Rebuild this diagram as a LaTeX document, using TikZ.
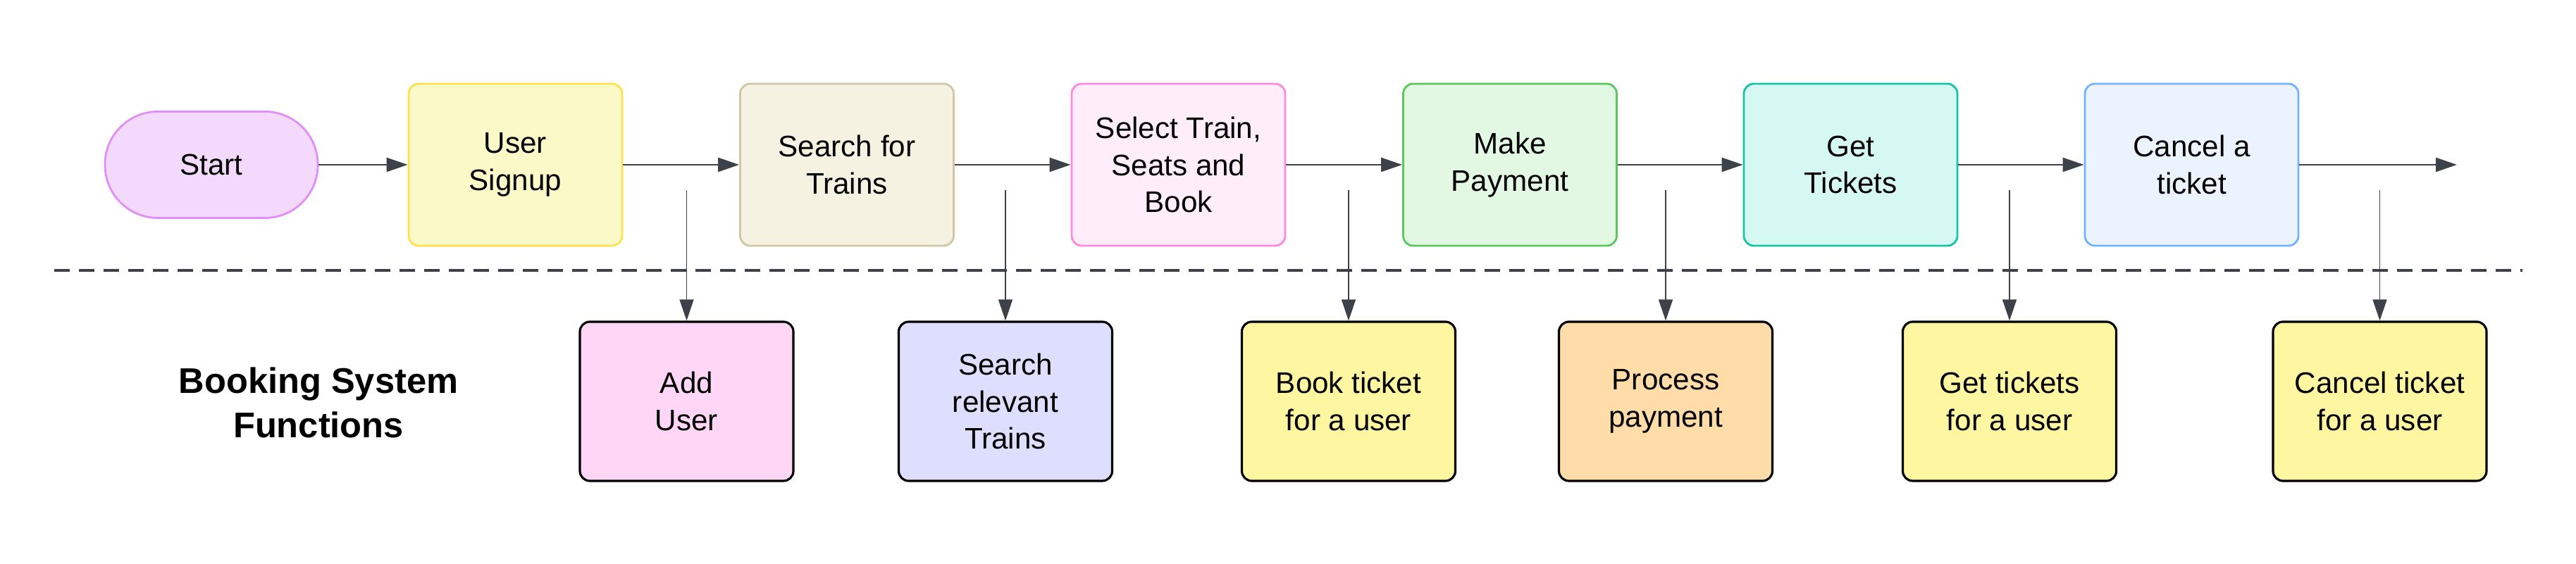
\documentclass[tikz,border=0pt]{standalone}
\usepackage{fontspec}
\setmainfont{Liberation Sans}
\usetikzlibrary{arrows.meta}

\definecolor{linegray}{HTML}{3D424A}
\definecolor{startfill}{HTML}{F3D9FC}
\definecolor{startline}{HTML}{E18FF6}
\definecolor{signupfill}{HTML}{FCF9C9}
\definecolor{signupline}{HTML}{FFE14F}
\definecolor{searchfill}{HTML}{F6F2E2}
\definecolor{searchline}{HTML}{D1C6A6}
\definecolor{selectfill}{HTML}{FFEDF9}
\definecolor{selectline}{HTML}{FF89E0}
\definecolor{payfill}{HTML}{E2F8E2}
\definecolor{payline}{HTML}{5CC75F}
\definecolor{ticketsfill}{HTML}{D6F8F2}
\definecolor{ticketsline}{HTML}{16C4AA}
\definecolor{cancelfill}{HTML}{EBF4FE}
\definecolor{cancelline}{HTML}{71B3FF}
\definecolor{adduserfill}{HTML}{FFD6F5}
\definecolor{relevantfill}{HTML}{DEDEFF}
\definecolor{bookfill}{HTML}{FFF6A2}
\definecolor{processfill}{HTML}{FFDCA8}

\tikzset{
  flowbox/.style 2 args={draw=#1, fill=#2, line width=0.8pt, rounded corners=4pt,
    minimum width=3.03cm, minimum height=2.30cm, inner sep=0pt, align=center,
    font=\fontsize{12}{15}\selectfont},
  funcbox/.style={draw=black, fill=#1, line width=0.9pt, rounded corners=4pt,
    minimum width=3.03cm, minimum height=2.26cm, inner sep=0pt, align=center,
    font=\fontsize{12}{15}\selectfont},
  flowarrow/.style={draw=linegray, line width=0.65pt, -{Triangle[length=0.3cm,width=0.2cm]}},
  callarrow/.style={draw=linegray, line width=0.45pt, -{Triangle[length=0.3cm,width=0.2cm]}}
}

\begin{document}
\begin{tikzpicture}
\fill[white] (0,0) rectangle (36.56,8.01);

\node[draw=startline, fill=startfill, line width=0.8pt, rounded corners=0.75cm,
  minimum width=3.02cm, minimum height=1.51cm, inner sep=0pt,
  font=\fontsize{12}{15}\selectfont] (start) at (3.00,5.67) {Start};
\node[flowbox={signupline}{signupfill}] (signup) at (7.315,5.67) {User\\Signup};
\node[flowbox={searchline}{searchfill}] (search) at (12.02,5.67) {Search for\\Trains};
\node[flowbox={selectline}{selectfill}] (select) at (16.725,5.67) {Select Train,\\Seats and\\Book};
\node[flowbox={payline}{payfill}] (payment) at (21.43,5.67) {Make\\Payment};
\node[flowbox={ticketsline}{ticketsfill}] (tickets) at (26.265,5.67) {Get\\Tickets};
\node[flowbox={cancelline}{cancelfill}] (cancel) at (31.105,5.67) {Cancel a\\ticket};
\coordinate (end) at (34.87,5.67);

\draw[flowarrow] (start) -- (signup);
\draw[flowarrow] (signup) -- (search);
\draw[flowarrow] (search) -- (select);
\draw[flowarrow] (select) -- (payment);
\draw[flowarrow] (payment) -- (tickets);
\draw[flowarrow] (tickets) -- (cancel);
\draw[flowarrow] (cancel) -- (end);

\draw[linegray, line width=0.9pt, dash pattern=on 0.22cm off 0.13cm] (0.77,4.17) -- (35.80,4.17);

\node[font=\bfseries\fontsize{14.4}{18}\selectfont, align=center] (sysfunc) at (4.52,2.29) {Booking System\\Functions};

\node[funcbox=adduserfill] (adduser) at (9.745,2.31) {Add\\User};
\node[funcbox=relevantfill] (findtrains) at (14.27,2.31) {Search\\relevant\\Trains};
\node[funcbox=bookfill] (bookticket) at (19.14,2.31) {Book ticket\\for a user};
\node[funcbox=processfill] (processpay) at (23.64,2.31) {Process\\payment};
\node[funcbox=bookfill] (gettickets) at (28.52,2.31) {Get tickets\\for a user};
\node[funcbox=bookfill] (cancelticket) at (33.775,2.31) {Cancel ticket\\for a user};

\coordinate (tap1) at (9.745,5.31);
\coordinate (tap2) at (14.27,5.31);
\coordinate (tap3) at (19.14,5.31);
\coordinate (tap4) at (23.64,5.31);
\coordinate (tap5) at (28.52,5.31);
\coordinate (tap6) at (33.775,5.31);

\draw[callarrow] (tap1) -- (adduser);
\draw[callarrow] (tap2) -- (findtrains);
\draw[callarrow] (tap3) -- (bookticket);
\draw[callarrow] (tap4) -- (processpay);
\draw[callarrow] (tap5) -- (gettickets);
\draw[callarrow] (tap6) -- (cancelticket);
\end{tikzpicture}
\end{document}
